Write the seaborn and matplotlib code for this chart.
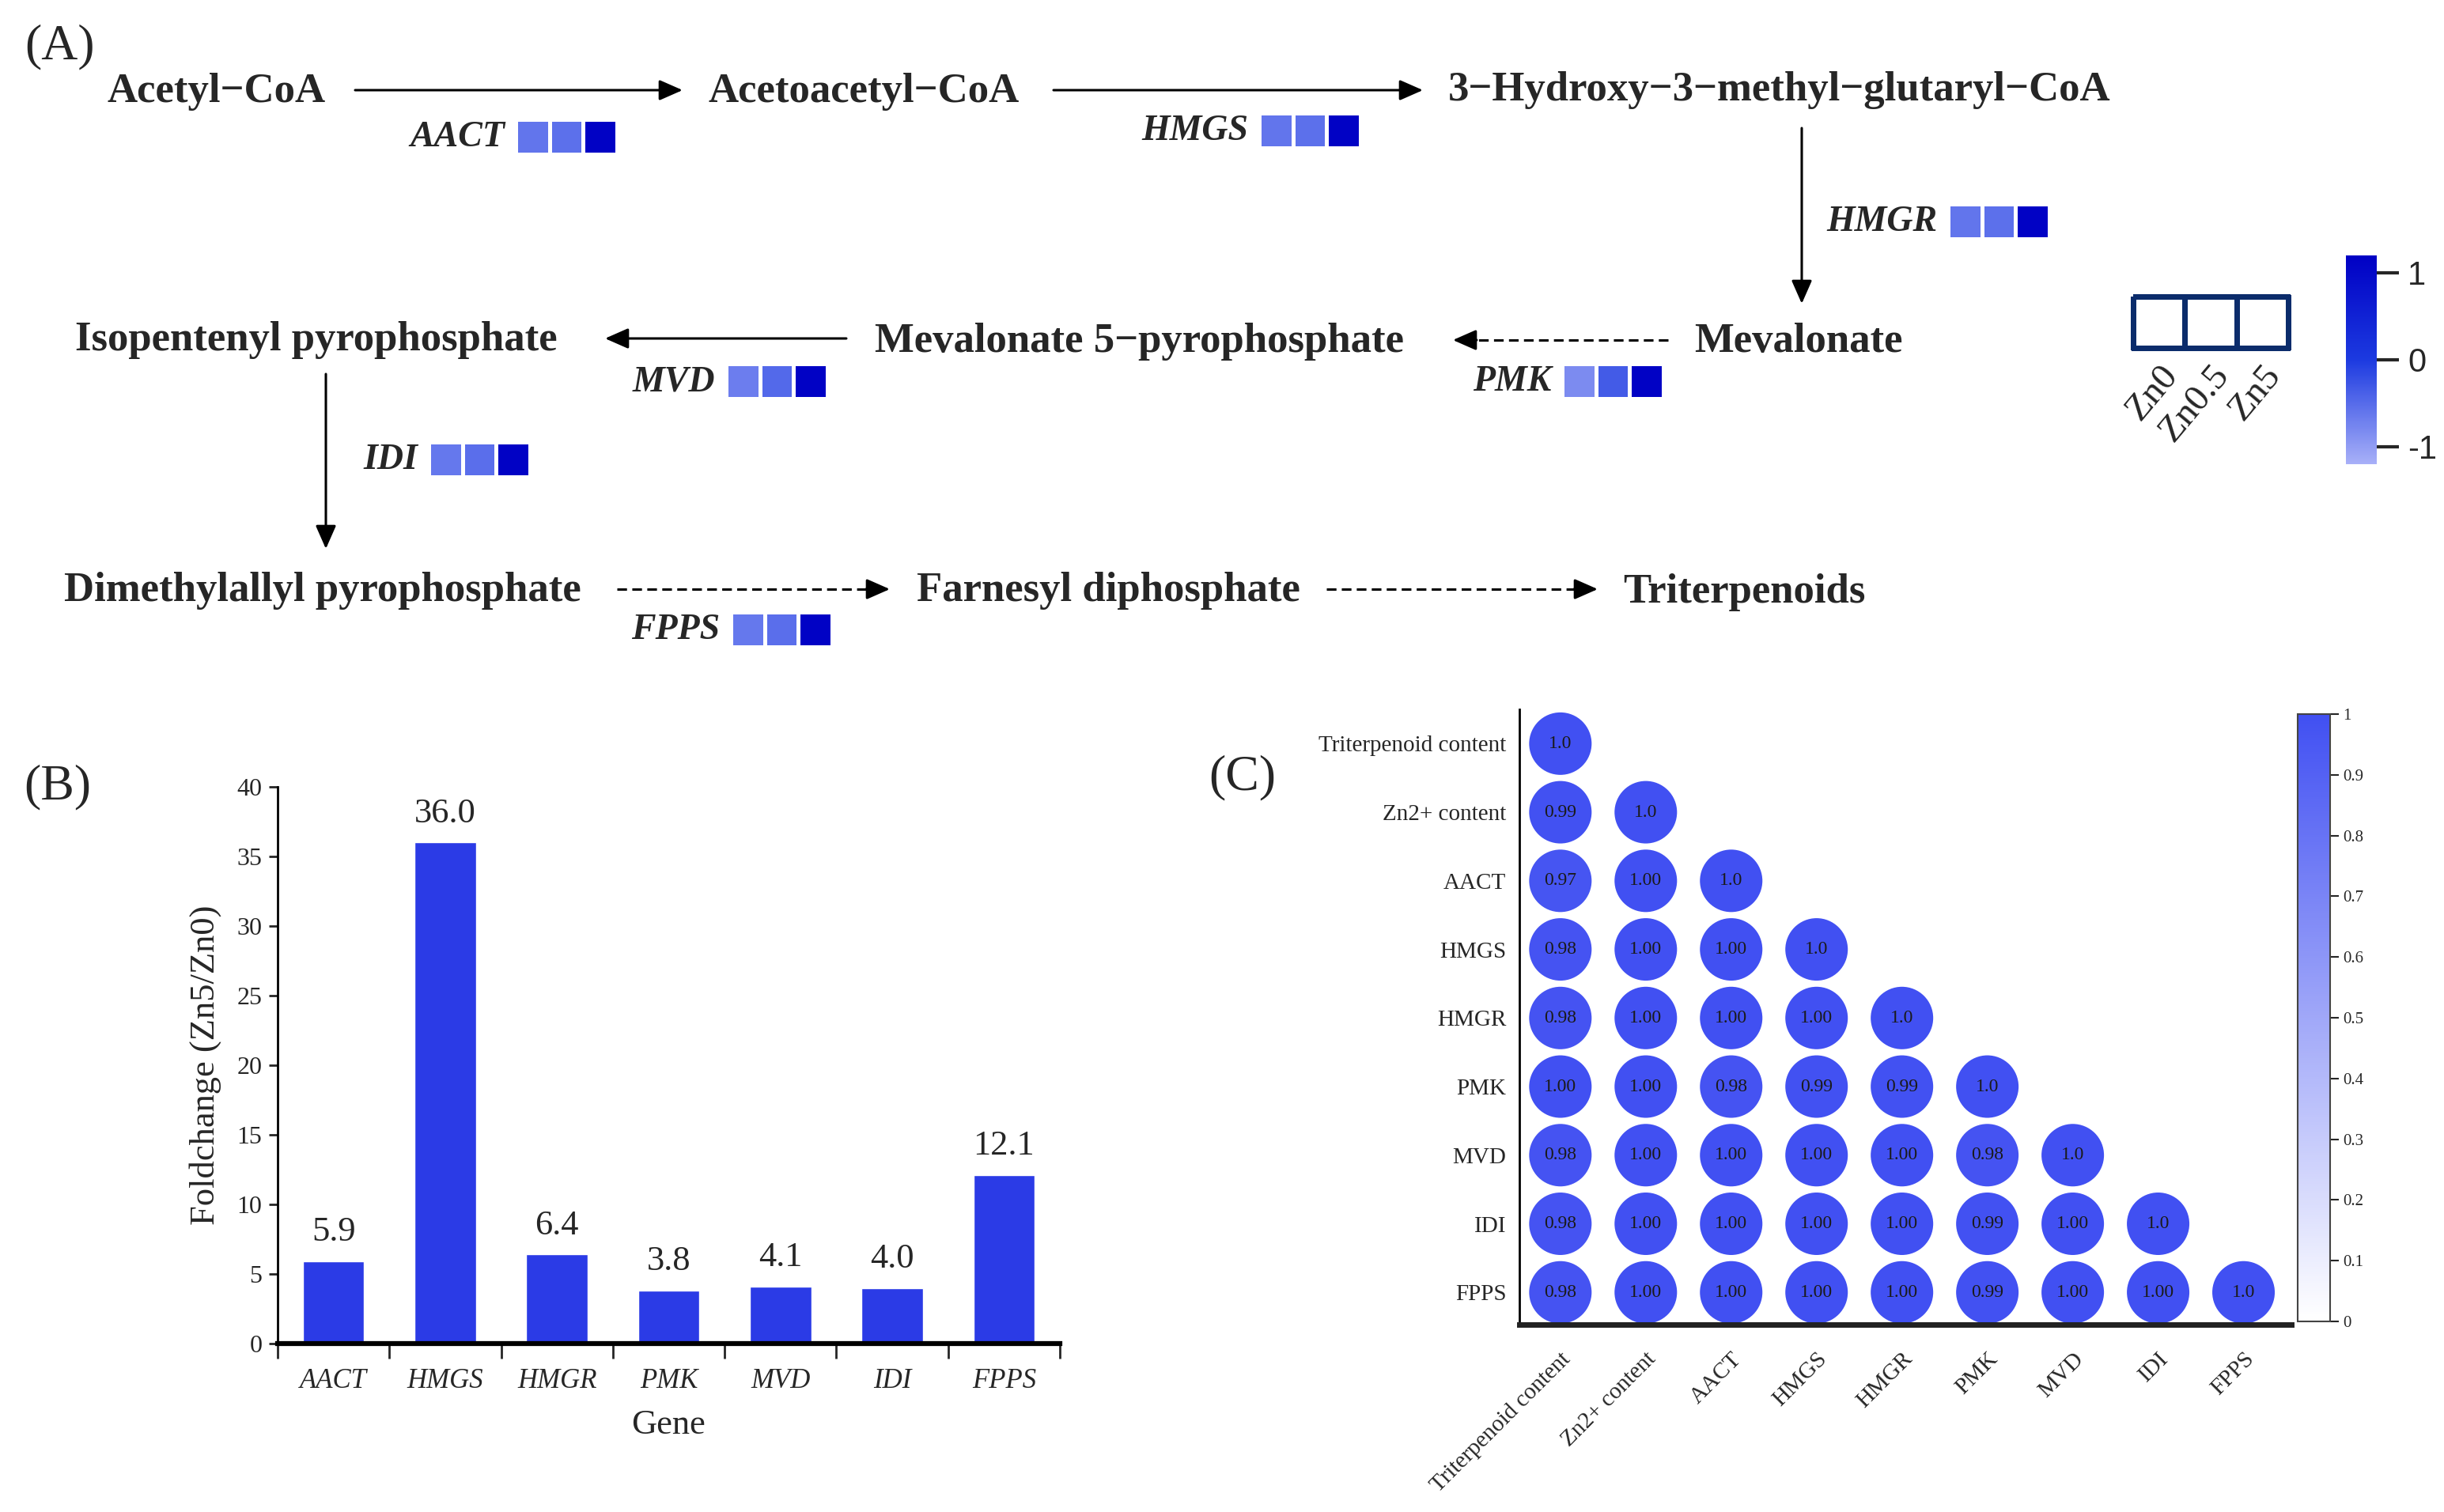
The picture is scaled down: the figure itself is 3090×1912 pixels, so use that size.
import numpy as np
import pandas as pd
import matplotlib
matplotlib.use("Agg")
import matplotlib.pyplot as plt
import seaborn as sns
from matplotlib.colors import LinearSegmentedColormap, ListedColormap, Normalize
from matplotlib.cm import ScalarMappable

W, H = 3090, 1912

# (A) z-scored expression of each gene under the three zinc treatments
treatments = ["Zn0", "Zn0.5", "Zn5"]
heat_genes = ["AACT", "HMGS", "HMGR", "PMK", "MVD", "IDI", "FPPS"]
heat_zn0 = [-0.60, -0.60, -0.60, -0.82, -0.68, -0.62, -0.62]
heat_zn05 = [-0.55, -0.55, -0.55, -0.33, -0.47, -0.53, -0.53]
heat_zn5 = [1.15, 1.15, 1.15, 1.15, 1.15, 1.15, 1.15]

# (B) fold change Zn5 / Zn0
genes = ["AACT", "HMGS", "HMGR", "PMK", "MVD", "IDI", "FPPS"]
foldchange = [5.9, 36.0, 6.4, 3.8, 4.1, 4.0, 12.1]

# (C) correlation (lower triangle)
corr_labels = ["Triterpenoid content", "Zn2+ content", "AACT", "HMGS", "HMGR",
               "PMK", "MVD", "IDI", "FPPS"]
corr_lower = [
    [1.0],
    [0.99, 1.0],
    [0.97, 1.00, 1.0],
    [0.98, 1.00, 1.00, 1.0],
    [0.98, 1.00, 1.00, 1.00, 1.0],
    [1.00, 1.00, 0.98, 0.99, 0.99, 1.0],
    [0.98, 1.00, 1.00, 1.00, 1.00, 0.98, 1.0],
    [0.98, 1.00, 1.00, 1.00, 1.00, 0.99, 1.00, 1.0],
    [0.98, 1.00, 1.00, 1.00, 1.00, 0.99, 1.00, 1.00, 1.0],
]

sns.set_style("white")
plt.rcParams["font.family"] = ["Liberation Serif", "DejaVu Serif"]
plt.rcParams["axes.unicode_minus"] = False


def frac(x0, y0, x1, y1):
    # pixel box (top-left origin) -> figure fraction rect
    return [x0 / W, 1 - y1 / H, (x1 - x0) / W, (y1 - y0) / H]


fig = plt.figure(figsize=(W / 100, H / 100), dpi=100)

ov = fig.add_axes([0, 0, 1, 1])
ov.set_xlim(0, W)
ov.set_ylim(H, 0)
ov.axis("off")

for lab, (x, y) in {"(A)": (75, 59), "(B)": (73, 995), "(C)": (1571, 983)}.items():
    ov.text(x, y, lab, fontsize=46, ha="center", va="center")

# ---------------- panel A: pathway ----------------
M = "\u2212"
nodes = {
    "Acetyl" + M + "CoA": (274, 116),
    "Acetoacetyl" + M + "CoA": (1092, 116),
    "3" + M + "Hydroxy" + M + "3" + M + "methyl" + M + "glutaryl" + M + "CoA": (2250, 114),
    "Mevalonate": (2274, 432),
    "Mevalonate 5" + M + "pyrophosphate": (1441, 432),
    "Isopentenyl pyrophosphate": (400, 430),
    "Dimethylallyl pyrophosphate": (408, 747),
    "Farnesyl diphosphate": (1401, 747),
    "Triterpenoids": (2205, 749),
}
for name, (x, y) in nodes.items():
    ov.text(x, y, name, fontsize=38, fontweight="bold", ha="center", va="center")

arrows = [
    ((449, 114), (863, 114), False),
    ((1332, 114), (1799, 114), False),
    ((2278, 162), (2278, 384), False),
    ((2109, 430), (1837, 430), True),
    ((1070, 428), (765, 428), False),
    ((412, 473), (412, 694), False),
    ((780, 745), (1125, 745), True),
    ((1677, 745), (2020, 745), True),
]
hstyle = "-|>,head_length=0.5,head_width=0.22"
for (x0, y0), (x1, y1), dashed in arrows:
    if dashed:
        d = np.hypot(x1 - x0, y1 - y0)
        ux, uy = (x1 - x0) / d, (y1 - y0) / d
        ov.plot([x0, x1 - ux * 20], [y0, y1 - uy * 20], color="black", lw=2.2,
                dashes=(4, 2.2))
        ov.annotate("", xy=(x1, y1), xytext=(x1 - ux * 30, y1 - uy * 30),
                    arrowprops=dict(arrowstyle=hstyle, color="black", lw=2.2,
                                    mutation_scale=36, shrinkA=0, shrinkB=0))
    else:
        ov.annotate("", xy=(x1, y1), xytext=(x0, y0),
                    arrowprops=dict(arrowstyle=hstyle, color="black", lw=2.2,
                                    mutation_scale=36, shrinkA=0, shrinkB=0))

heat_df = pd.DataFrame({"Zn0": heat_zn0, "Zn0.5": heat_zn05, "Zn5": heat_zn5},
                       index=heat_genes)[treatments]
cmapA = LinearSegmentedColormap.from_list("zn", ["#a8b0f8", "#1c3ae0", "#0000c4"])

square_pos = {
    "AACT": (652, 152), "HMGS": (1592, 144), "HMGR": (2463, 259),
    "PMK": (1975, 461), "MVD": (918, 461), "IDI": (542, 560), "FPPS": (924, 775),
}
caxA = fig.add_axes(frac(2966, 323, 3005, 587))
for i, g in enumerate(heat_genes):
    x0, y0 = square_pos[g]
    axh = fig.add_axes(frac(x0, y0 - 1, x0 + 128, y0 + 43))
    sns.heatmap(heat_df.loc[[g]], cmap=cmapA, vmin=-1.2, vmax=1.2,
                linewidths=2.5, linecolor="white", xticklabels=False,
                yticklabels=False, ax=axh, cbar=(i == 0),
                cbar_ax=caxA if i == 0 else None)
    axh.set_xlabel("")
    axh.set_ylabel("")
    ov.text(x0 - 14, y0 + 22, g, fontsize=33, fontstyle="italic",
            fontweight="bold", ha="right", va="center")
    if i == 0:
        cb = axh.collections[0].colorbar
        cb.set_ticks([-1, 0, 1])
        cb.outline.set_visible(False)
        caxA.tick_params(length=20, width=3, labelsize=30, pad=8)
        for t in caxA.get_yticklabels():
            t.set_fontfamily("Liberation Sans")

axl = fig.add_axes(frac(2697, 375, 2893, 440))
sns.heatmap(pd.DataFrame([[0, 0, 0]], columns=treatments),
            cmap=ListedColormap(["white"]), cbar=False, linewidths=5,
            linecolor="#0b2c6b", yticklabels=False, ax=axl)
axl.collections[0].set_clip_on(False)
axl.set_xticklabels(treatments, rotation=50, ha="right",
                    rotation_mode="anchor", fontsize=34)
axl.tick_params(axis="x", length=0, pad=10)

# ---------------- panel B: bar chart ----------------
axB = fig.add_axes(frac(351, 995, 1340, 1699))
axB.set_facecolor("none")
sns.barplot(x=genes, y=foldchange, color="#2b3be6", saturation=1,
            width=0.55, ax=axB)
axB.bar_label(axB.containers[0], fmt="%.1f", padding=12, fontsize=32)
axB.set_xlim(-0.5, 6.5)
axB.set_ylim(0, 40)
axB.set_yticks(np.arange(0, 41, 5))
axB.set_xticks(np.arange(-0.5, 7, 1), minor=True)
axB.tick_params(axis="x", which="major", length=0, pad=22, labelsize=25)
axB.tick_params(axis="x", which="minor", length=14, width=2, direction="out",
                bottom=True)
axB.tick_params(axis="y", length=8, width=2, direction="out", left=True,
                labelsize=23, pad=6)
for t in axB.get_xticklabels():
    t.set_fontstyle("italic")
sns.despine(ax=axB)
axB.spines["left"].set_linewidth(2)
axB.spines["bottom"].set_linewidth(4.5)
axB.spines["left"].set_color("black")
axB.spines["bottom"].set_color("black")
axB.set_ylabel("Foldchange (Zn5/Zn0)", fontsize=32, labelpad=14)
axB.set_xlabel("Gene", fontsize=32, labelpad=14)

# ---------------- panel C: correlation dot plot ----------------
rows = []
for r, vals in enumerate(corr_lower):
    for c, v in enumerate(vals):
        rows.append({"row": r, "col": c, "r": v,
                     "txt": "1.0" if r == c else f"{v:.2f}"})
corr_df = pd.DataFrame(rows)

cmapC = LinearSegmentedColormap.from_list("corr", ["#ffffff", "#4150f2"])
axC = fig.add_axes(frac(1921, 897, 2897, 1675))
axC.set_facecolor("none")
sns.scatterplot(data=corr_df, x="col", y="row", hue="r", palette=cmapC,
                hue_norm=(0, 1), s=3235, linewidth=0, legend=False, ax=axC)
for _, p in corr_df.iterrows():
    axC.text(p["col"], p["row"], p["txt"], ha="center", va="center",
             fontsize=17, color="#1a1a1a")
axC.set_xlim(-0.48, 8.56)
axC.set_ylim(8.47, -0.5)
axC.set_xticks(range(len(corr_labels)))
axC.set_yticks(range(len(corr_labels)))
axC.set_xticklabels(corr_labels, rotation=45, ha="right", rotation_mode="anchor",
                    fontsize=21)
axC.set_yticklabels(corr_labels, fontsize=21)
axC.tick_params(axis="both", length=0)
axC.tick_params(axis="x", pad=22)
axC.tick_params(axis="y", pad=12)
axC.set_xlabel("")
axC.set_ylabel("")
sns.despine(ax=axC)
axC.spines["left"].set_linewidth(2)
axC.spines["left"].set_color("black")
axC.spines["bottom"].set_linewidth(5)
axC.spines["bottom"].set_color("#222222")

caxC = fig.add_axes(frac(2905, 903, 2946, 1671))
cbC = fig.colorbar(ScalarMappable(norm=Normalize(0, 1), cmap=cmapC), cax=caxC)
cbC.set_ticks(np.round(np.arange(0, 1.01, 0.1), 1))
cbC.set_ticklabels(["0"] + [f"{v:.1f}" for v in np.arange(0.1, 0.95, 0.1)] + ["1"])
cbC.outline.set_linewidth(1.5)
cbC.outline.set_edgecolor("#444444")
caxC.tick_params(length=8, width=1.5, labelsize=15, pad=4)

fig.savefig("out.png", dpi=100)
